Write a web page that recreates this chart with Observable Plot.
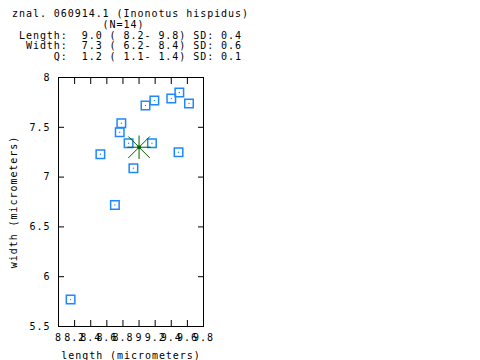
<!DOCTYPE html>
<html><head><meta charset="utf-8">
<script src="https://cdn.jsdelivr.net/npm/d3@7"></script>
<script src="https://cdn.jsdelivr.net/npm/@observablehq/plot@0.6"></script>
<style>
body{margin:0;background:#fff;}
#title{height:66px;box-sizing:border-box;padding-top:9px;padding-left:12px;font-family:"DejaVu Sans Mono",monospace;font-size:10px;letter-spacing:0.95px;line-height:10.75px;white-space:pre;color:#000;}
#title div{height:10.75px}
</style></head><body>
<div id="title"></div>
<div id="chart"></div>
<script>
// Title lines (leading spaces reproduce the monospace alignment)
const titleLines = [
  "znal. 060914.1 (Inonotus hispidus)",
  "             (N=14)",
  " Length:  9.0 ( 8.2- 9.8) SD: 0.4",
  "  Width:  7.3 ( 6.2- 8.4) SD: 0.6",
  "      Q:  1.2 ( 1.1- 1.4) SD: 0.1"
];
// Spore measurements (micrometers)
const lengths = [8.15, 8.52, 8.70, 8.76, 8.78, 8.87, 8.93, 9.08, 9.19, 9.16, 9.40, 9.50, 9.49, 9.62];
const widths  = [5.77, 7.23, 6.72, 7.45, 7.54, 7.34, 7.09, 7.72, 7.77, 7.34, 7.79, 7.85, 7.25, 7.74];
const meanLength = 9.0;
const meanWidth = 7.3;
const xTicks = [8, 8.2, 8.4, 8.6, 8.8, 9, 9.2, 9.4, 9.6, 9.8];
const yTicks = [5.5, 6, 6.5, 7, 7.5, 8];
const xLabel = "length (micrometers)";
const yLabel = "width (micrometers)";

const tEl = document.getElementById("title");
for (const line of titleLines) {
  const d = document.createElement("div");
  d.textContent = line;
  tEl.appendChild(d);
}

const points = lengths.map((l, i) => ({length: l, width: widths[i]}));
const mean = [{length: meanLength, width: meanWidth}];
const blue = "#1e88ff";
const green = "#006400";
const fmt = d3.format("~g");

const chart = Plot.plot({
  width: 480, height: 294,
  marginTop: 11, marginBottom: 34, marginLeft: 58, marginRight: 277,
  style: {fontFamily: '"DejaVu Sans Mono", monospace', fontSize: "10px", letterSpacing: "0.95px", color: "#000", background: "#fff", overflow: "visible"},
  x: {domain: [8, 9.8]},
  y: {domain: [5.5, 8]},
  marks: [
    Plot.frame({stroke: "#000"}),
    Plot.axisX({anchor: "bottom", ticks: xTicks, tickSize: -6, tickPadding: 13, tickFormat: fmt, label: xLabel, labelAnchor: "center", labelOffset: 32, labelArrow: "none"}),
    Plot.axisX({anchor: "top", ticks: xTicks, tickSize: -6, tickFormat: () => "", label: null}),
    Plot.axisY({anchor: "left", ticks: yTicks, tickSize: -6, tickPadding: 14, tickFormat: fmt, label: yLabel, labelAnchor: "center", labelOffset: 49, labelArrow: "none"}),
    Plot.axisY({anchor: "right", ticks: yTicks, tickSize: -6, tickFormat: () => "", label: null}),
    Plot.dot(points, {x: "length", y: "width", symbol: "square", r: 4.8, stroke: blue, strokeWidth: 1.5}),
    Plot.dot(points, {x: "length", y: "width", r: 0.7, fill: blue}),
    Plot.dot(mean, {x: "length", y: "width", symbol: "plus", r: 7.6, stroke: green, strokeWidth: 1}),
    Plot.dot(mean, {x: "length", y: "width", symbol: "times", r: 9.8, stroke: green, strokeWidth: 1}),
    Plot.dot(mean, {x: "length", y: "width", r: 2, fill: green})
  ]
});
document.getElementById("chart").appendChild(chart);
</script>
</body></html>
